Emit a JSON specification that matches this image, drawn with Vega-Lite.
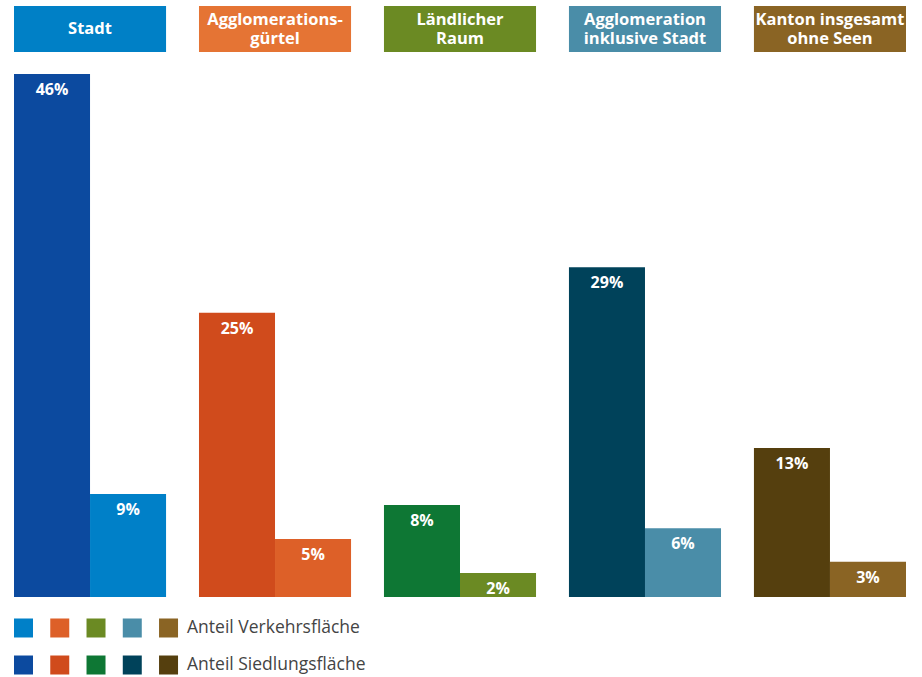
{
  "$schema": "https://vega.github.io/schema/vega-lite/v6.json",
  "padding": {"top": 6, "left": 13, "right": 0, "bottom": 0},
  "spacing": 22,
  "bounds": "flush",
  "config": {"view": {"stroke": null}, "font": "Open Sans"},
  "datasets": {
    "bars": [
      {"group": "Stadt", "type": "Siedlung", "series": "Stadt-S", "value": 46.0, "label": "46%"},
      {"group": "Stadt", "type": "Verkehr", "series": "Stadt-V", "value": 9.05, "label": "9%"},
      {"group": "Agglogürtel", "type": "Siedlung", "series": "Agglo-S", "value": 25.0, "label": "25%"},
      {"group": "Agglogürtel", "type": "Verkehr", "series": "Agglo-V", "value": 5.1, "label": "5%"},
      {"group": "Ländlich", "type": "Siedlung", "series": "Land-S", "value": 8.1, "label": "8%"},
      {"group": "Ländlich", "type": "Verkehr", "series": "Land-V", "value": 2.1, "label": "2%"},
      {"group": "AggloInkl", "type": "Siedlung", "series": "Inkl-S", "value": 29.0, "label": "29%"},
      {"group": "AggloInkl", "type": "Verkehr", "series": "Inkl-V", "value": 6.05, "label": "6%"},
      {"group": "Kanton", "type": "Siedlung", "series": "Kanton-S", "value": 13.1, "label": "13%"},
      {"group": "Kanton", "type": "Verkehr", "series": "Kanton-V", "value": 3.1, "label": "3%"}
    ],
    "headers": [
      {"group": "Stadt", "series": "Stadt-H", "lines": 1, "title": "Stadt"},
      {"group": "Agglogürtel", "series": "Agglo-H", "lines": 2, "title": "Agglomerations-\ngürtel"},
      {"group": "Ländlich", "series": "Land-H", "lines": 2, "title": "Ländlicher\nRaum"},
      {"group": "AggloInkl", "series": "Inkl-H", "lines": 2, "title": "Agglomeration\ninklusive Stadt"},
      {"group": "Kanton", "series": "Kanton-H", "lines": 2, "title": "Kanton insgesamt\nohne Seen"}
    ],
    "legend": [
      {"slot": 0, "type": "Verkehr", "series": "Stadt-V"},
      {"slot": 1, "type": "Verkehr", "series": "Agglo-V"},
      {"slot": 2, "type": "Verkehr", "series": "Land-V"},
      {"slot": 3, "type": "Verkehr", "series": "Inkl-V"},
      {"slot": 4, "type": "Verkehr", "series": "Kanton-V"},
      {"slot": 0, "type": "Siedlung", "series": "Stadt-S"},
      {"slot": 1, "type": "Siedlung", "series": "Agglo-S"},
      {"slot": 2, "type": "Siedlung", "series": "Land-S"},
      {"slot": 3, "type": "Siedlung", "series": "Inkl-S"},
      {"slot": 4, "type": "Siedlung", "series": "Kanton-S"}
    ],
    "legendText": [
      {"slot": 4, "type": "Verkehr", "text": "Anteil Verkehrsfläche"},
      {"slot": 4, "type": "Siedlung", "text": "Anteil Siedlungsfläche"}
    ]
  },
  "vconcat": [
    {
      "width": 892,
      "height": 46,
      "data": {"name": "headers"},
      "encoding": {
        "x": {"field": "group", "type": "nominal", "sort": null, "axis": null,
              "scale": {"domain": ["Stadt", "Agglogürtel", "Ländlich", "AggloInkl", "Kanton"], "paddingInner": 0.178, "paddingOuter": 0}}
      },
      "layer": [
        {
          "mark": {"type": "bar"},
          "encoding": {
            "color": {"field": "series", "type": "nominal", "legend": null,
              "scale": {
                "domain": ["Stadt-H", "Agglo-H", "Land-H", "Inkl-H", "Kanton-H", "Stadt-S", "Stadt-V", "Agglo-S", "Agglo-V", "Land-S", "Land-V", "Inkl-S", "Inkl-V", "Kanton-S", "Kanton-V"],
                "range": ["#0080C6", "#E57434", "#6B8A23", "#4A8DA8", "#8A6424", "#0C4A9F", "#0080C8", "#D04B1C", "#DD6028", "#0E7734", "#6B8A23", "#00425A", "#4A8DA8", "#553F0E", "#8A6424"]
              }}
          }
        },
        {
          "transform": [{"filter": "datum.lines == 1"}],
          "mark": {"type": "text", "color": "white", "fontWeight": "bold", "fontSize": 16.5, "baseline": "middle", "align": "center"},
          "encoding": {"text": {"field": "title"}}
        },
        {
          "transform": [{"filter": "datum.lines == 2"}],
          "mark": {"type": "text", "color": "white", "fontWeight": "bold", "fontSize": 16.5, "lineBreak": "\n", "lineHeight": 19, "baseline": "middle", "align": "center", "dy": -9.5},
          "encoding": {"text": {"field": "title"}}
        }
      ]
    },
    {
      "width": 892,
      "height": 523,
      "data": {"name": "bars"},
      "encoding": {
        "x": {"field": "group", "type": "nominal", "sort": null, "axis": null,
              "scale": {"domain": ["Stadt", "Agglogürtel", "Ländlich", "AggloInkl", "Kanton"], "paddingInner": 0.178, "paddingOuter": 0}},
        "xOffset": {"field": "type", "type": "nominal", "scale": {"domain": ["Siedlung", "Verkehr"], "paddingInner": 0, "paddingOuter": 0}},
        "y": {"field": "value", "type": "quantitative", "axis": null, "scale": {"domain": [0, 46], "nice": false}}
      },
      "layer": [
        {
          "mark": {"type": "bar"},
          "encoding": {
            "color": {"field": "series", "type": "nominal", "legend": null,
              "scale": {
                "domain": ["Stadt-H", "Agglo-H", "Land-H", "Inkl-H", "Kanton-H", "Stadt-S", "Stadt-V", "Agglo-S", "Agglo-V", "Land-S", "Land-V", "Inkl-S", "Inkl-V", "Kanton-S", "Kanton-V"],
                "range": ["#0080C6", "#E57434", "#6B8A23", "#4A8DA8", "#8A6424", "#0C4A9F", "#0080C8", "#D04B1C", "#DD6028", "#0E7734", "#6B8A23", "#00425A", "#4A8DA8", "#553F0E", "#8A6424"]
              }}
          }
        },
        {
          "mark": {"type": "text", "color": "white", "fontWeight": "bold", "fontSize": 16, "baseline": "top", "align": "center", "dy": 8},
          "encoding": {"text": {"field": "label"}}
        }
      ]
    },
    {
      "width": 400,
      "height": 55,
      "encoding": {
        "x": {"field": "slot", "type": "quantitative", "axis": null, "scale": {"domain": [-0.262, 10.77], "nice": false, "zero": false}},
        "y": {"field": "type", "type": "nominal", "axis": null, "scale": {"type": "point", "domain": ["Verkehr", "Siedlung"], "padding": 0.243}}
      },
      "layer": [
        {
          "data": {"name": "legend"},
          "mark": {"type": "square", "size": 361, "opacity": 1},
          "encoding": {
            "color": {"field": "series", "type": "nominal", "legend": null,
              "scale": {
                "domain": ["Stadt-H", "Agglo-H", "Land-H", "Inkl-H", "Kanton-H", "Stadt-S", "Stadt-V", "Agglo-S", "Agglo-V", "Land-S", "Land-V", "Inkl-S", "Inkl-V", "Kanton-S", "Kanton-V"],
                "range": ["#0080C6", "#E57434", "#6B8A23", "#4A8DA8", "#8A6424", "#0C4A9F", "#0080C8", "#D04B1C", "#DD6028", "#0E7734", "#6B8A23", "#00425A", "#4A8DA8", "#553F0E", "#8A6424"]
              }}
          }
        },
        {
          "data": {"name": "legendText"},
          "mark": {"type": "text", "align": "left", "baseline": "middle", "dx": 18.5, "fontSize": 17.5, "color": "#444444"},
          "encoding": {"text": {"field": "text"}}
        }
      ]
    }
  ]
}
